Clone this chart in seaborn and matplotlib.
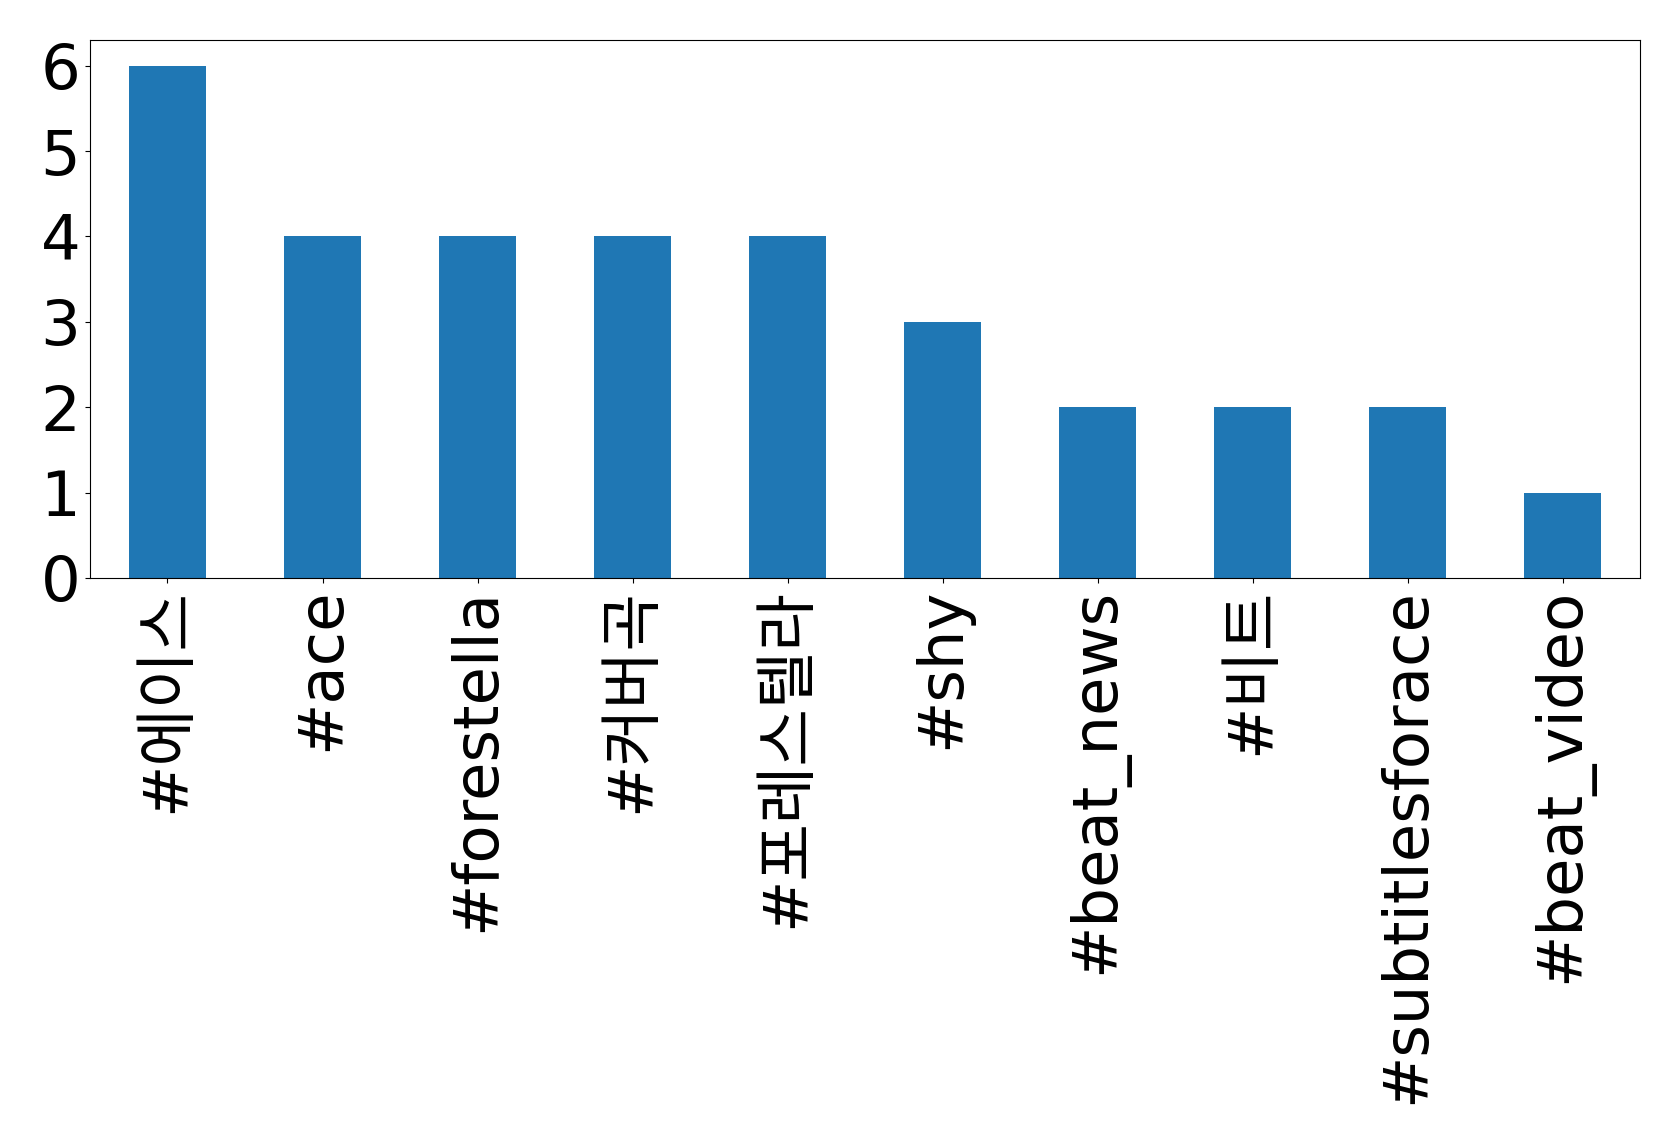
import matplotlib
matplotlib.use("Agg")
import matplotlib.pyplot as plt
import pandas as pd
import seaborn as sns

# hashtag counts
hashtags = ["#에이스", "#ace", "#forestella", "#커버곡", "#포레스텔라",
            "#shy", "#beat_news", "#비트", "#subtitlesforace", "#beat_video"]
counts = [6, 4, 4, 4, 4, 3, 2, 2, 2, 1]

df = pd.DataFrame({"hashtag": hashtags, "count": counts})

# Latin in DejaVu Sans, Korean falls through to Noto Sans CJK KR
plt.rcParams["font.family"] = ["DejaVu Sans", "Noto Sans CJK KR"]

fig = plt.figure(figsize=(16.79, 11.44), dpi=100)
ax = fig.add_axes([0.0536, 0.4948, 0.9232, 0.4702])

sns.barplot(data=df, x="hashtag", y="count", color="#1f77b4", saturation=1,
            width=0.5, ax=ax)

ax.set_xlim(-0.5, len(hashtags) - 0.5)
ax.set_ylim(0, 6.3)
ax.set_yticks(range(0, 7))
ax.set_xlabel("")
ax.set_ylabel("")
ax.tick_params(axis="both", labelsize=45)
ax.tick_params(axis="x", labelrotation=90)

fig.savefig("out.png", dpi=100)
